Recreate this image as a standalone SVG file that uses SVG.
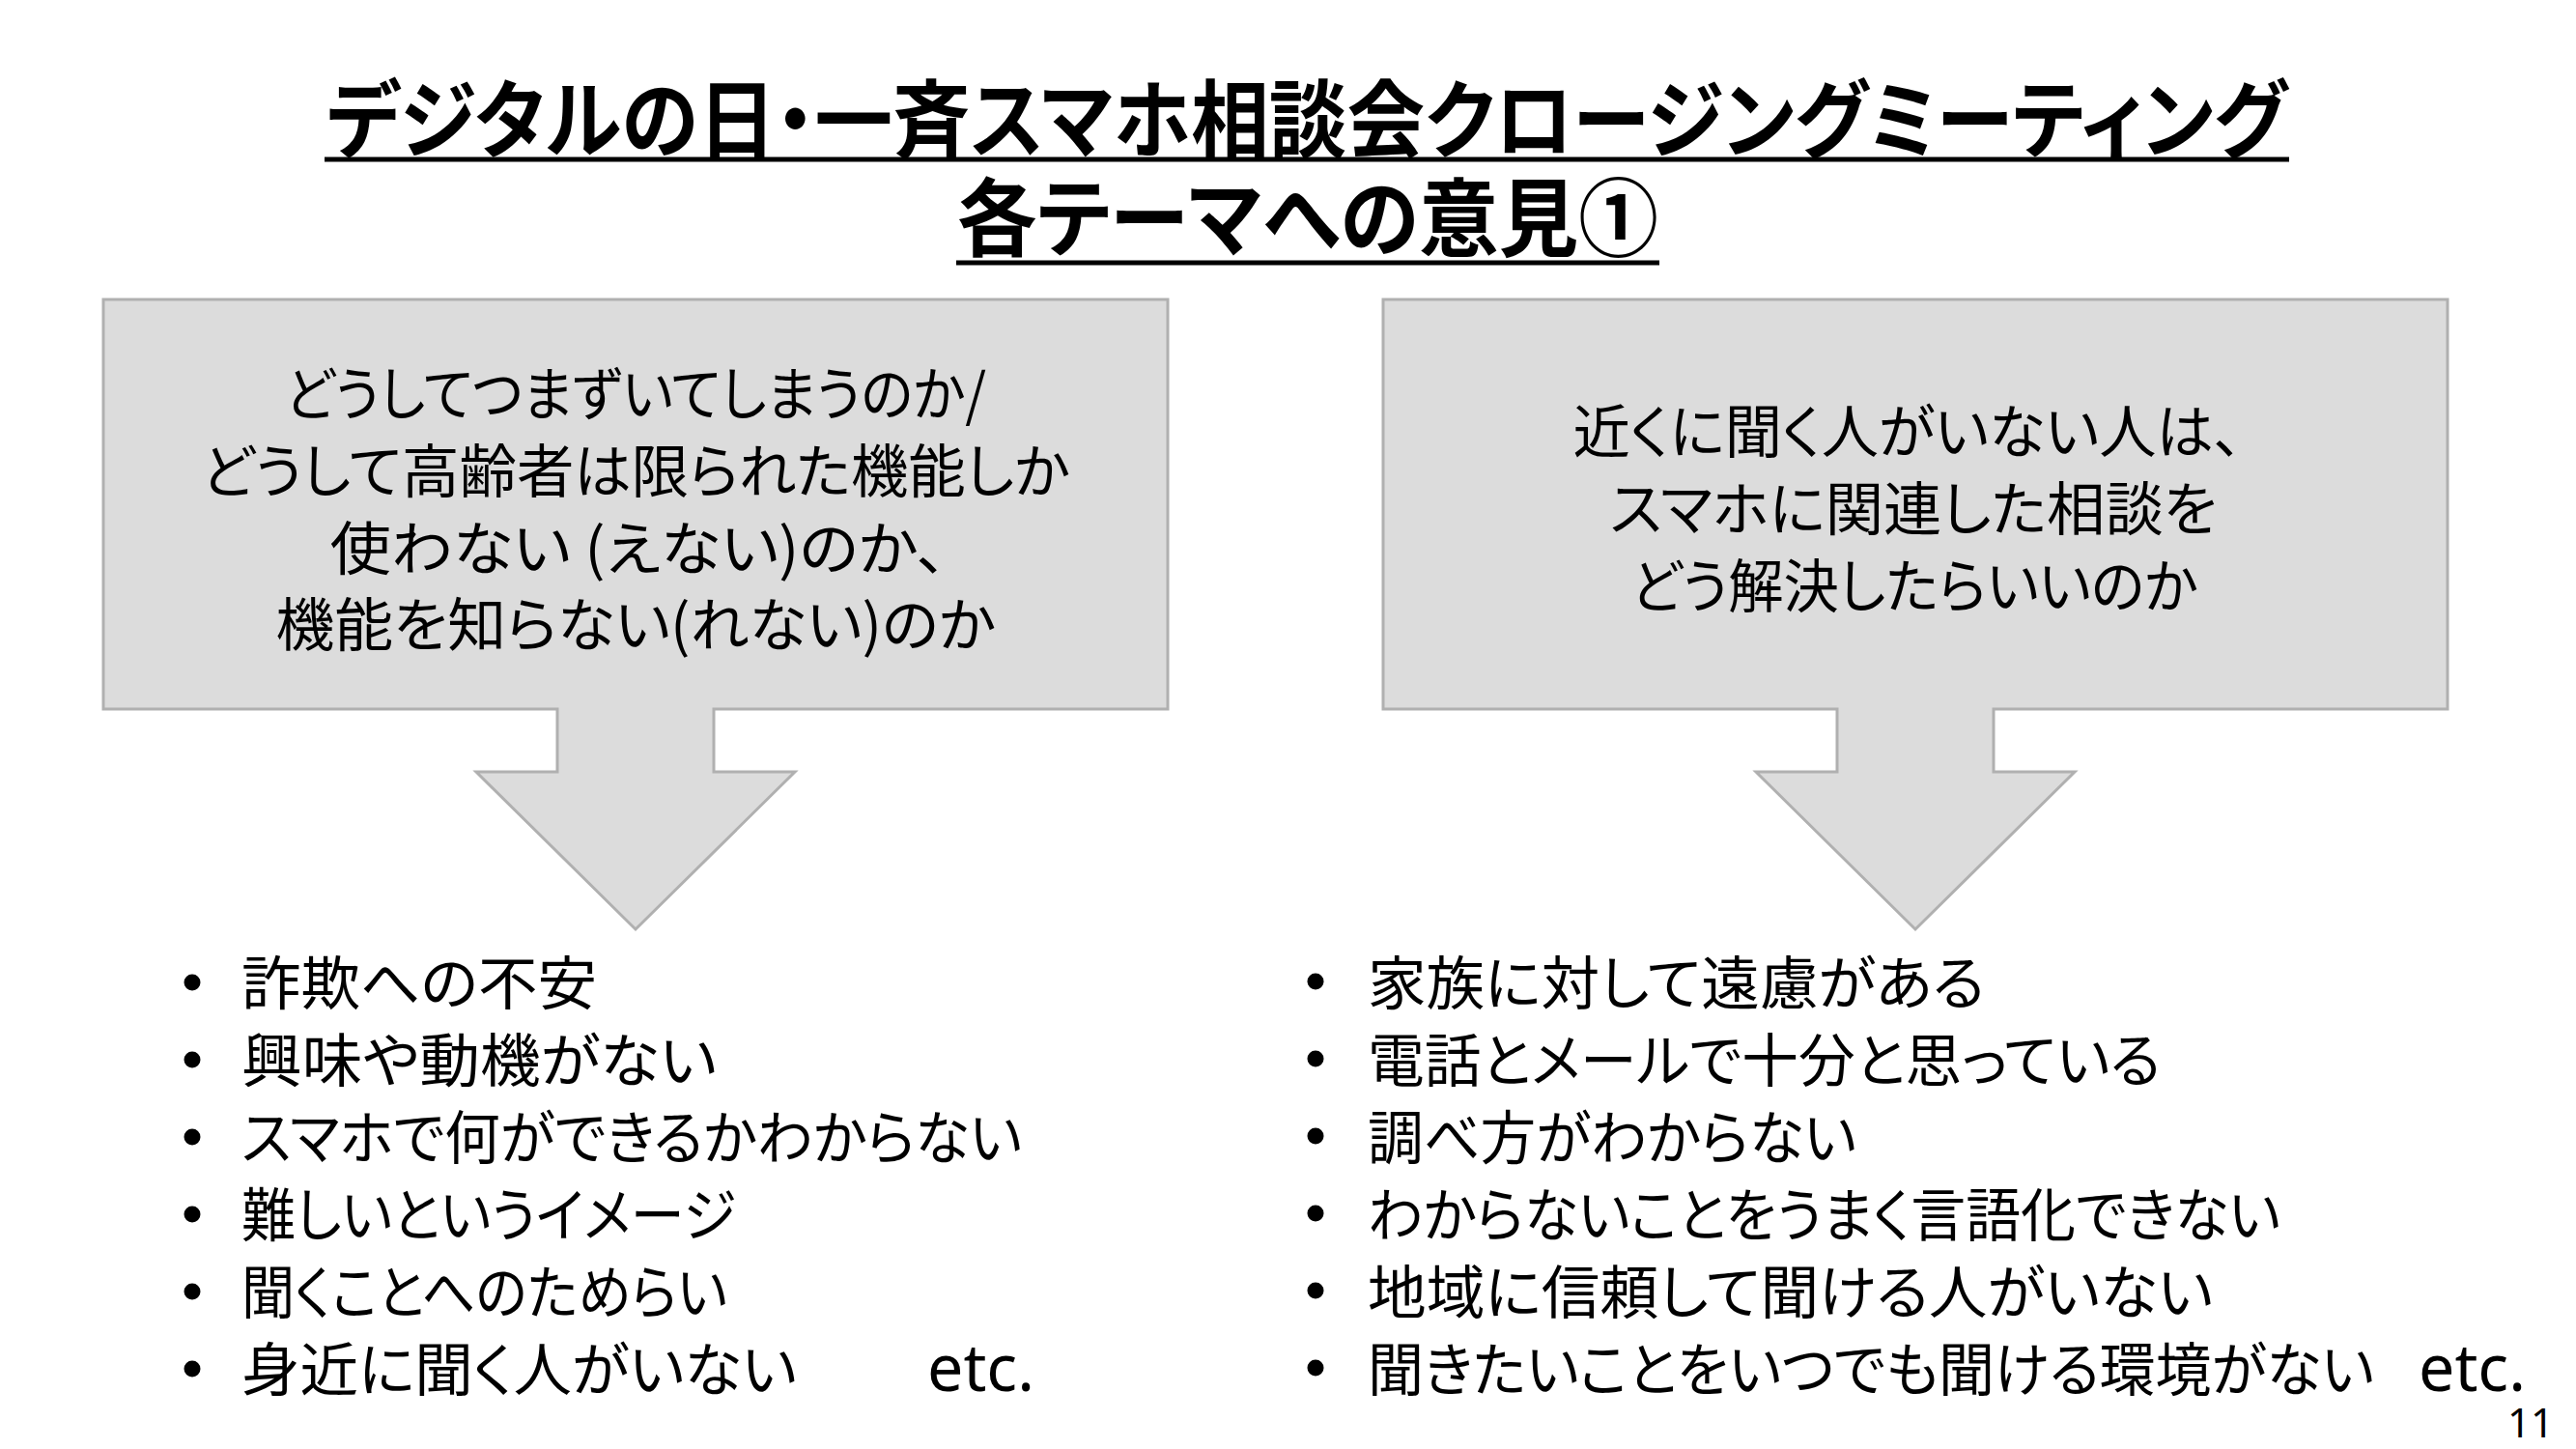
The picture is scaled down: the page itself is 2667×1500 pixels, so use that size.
<svg xmlns="http://www.w3.org/2000/svg" width="2667" height="1500" viewBox="0 0 2667 1500">
<style>
.jp{font-family:"Noto Sans CJK JP","Noto Sans",sans-serif;font-feature-settings:"palt";fill:#000}
.title{font-size:88px;font-weight:700;text-anchor:middle}
.box{font-size:60px;text-anchor:middle}
.item{font-size:60px}
.lat{font-family:"Noto Sans","DejaVu Sans",sans-serif;fill:#000}
.shape{fill:#dcdcdc;stroke:#b0b0b0;stroke-width:3;stroke-linejoin:miter}
.ul{stroke:#000;stroke-width:5}
</style>
<rect width="2667" height="1500" fill="#fff"/>
<g id="title">
<text class="jp title" x="1353" y="156" textLength="2030" lengthAdjust="spacingAndGlyphs">デジタルの日・一斉スマホ相談会クロージングミーティング</text>
<line class="ul" x1="336" y1="165" x2="2370" y2="165"/>
<text class="jp title" x="1354" y="258" textLength="726" lengthAdjust="spacingAndGlyphs">各テーマへの意見①</text>
<line class="ul" x1="990" y1="272" x2="1718" y2="272"/>
</g>
<g id="question-left">
<polygon class="shape" points="107,310 1209,310 1209,734 739,734 739,799 823,799 658,962 493,799 577,799 577,734 107,734"/>
<text class="jp box" x="658" y="430" textLength="726" lengthAdjust="spacingAndGlyphs">どうしてつまずいてしまうのか/</text>
<text class="jp box" x="658" y="510" textLength="899" lengthAdjust="spacingAndGlyphs">どうして高齢者は限られた機能しか</text>
<text class="jp box" x="661" y="590" textLength="639" lengthAdjust="spacingAndGlyphs">使わない (えない)のか、</text>
<text class="jp box" x="658" y="669" textLength="745" lengthAdjust="spacingAndGlyphs">機能を知らない(れない)のか</text>
</g>
<g id="question-right">
<polygon class="shape" points="1432,310 2534,310 2534,734 2064,734 2064,799 2148,799 1983,962 1818,799 1902,799 1902,734 1432,734"/>
<text class="jp box" x="1975" y="469" textLength="693" lengthAdjust="spacingAndGlyphs">近くに聞く人がいない人は、</text>
<text class="jp box" x="1981" y="549" textLength="629" lengthAdjust="spacingAndGlyphs">スマホに関連した相談を</text>
<text class="jp box" x="1982" y="629" textLength="587" lengthAdjust="spacingAndGlyphs">どう解決したらいいのか</text>
</g>
<g id="opinions-left">
<g fill="#000">
<circle cx="199" cy="1017" r="8.5"/>
<circle cx="199" cy="1097" r="8.5"/>
<circle cx="199" cy="1177" r="8.5"/>
<circle cx="199" cy="1257" r="8.5"/>
<circle cx="199" cy="1337" r="8.5"/>
<circle cx="199" cy="1417" r="8.5"/>
</g>
<text class="jp item" x="250" y="1040" textLength="368" lengthAdjust="spacingAndGlyphs">詐欺への不安</text>
<text class="jp item" x="250" y="1120" textLength="492" lengthAdjust="spacingAndGlyphs">興味や動機がない</text>
<text class="jp item" x="250" y="1200" textLength="808" lengthAdjust="spacingAndGlyphs">スマホで何ができるかわからない</text>
<text class="jp item" x="250" y="1280" textLength="512" lengthAdjust="spacingAndGlyphs">難しいというイメージ</text>
<text class="jp item" x="250" y="1360" textLength="503" lengthAdjust="spacingAndGlyphs">聞くことへのためらい</text>
<text class="jp item" x="250" y="1440" textLength="575" lengthAdjust="spacingAndGlyphs">身近に聞く人がいない</text>
<text class="lat" x="960" y="1440" font-size="68" textLength="111" lengthAdjust="spacingAndGlyphs">etc.</text>
</g>
<g id="opinions-right">
<g fill="#000">
<circle cx="1362" cy="1016" r="8.5"/>
<circle cx="1362" cy="1096" r="8.5"/>
<circle cx="1362" cy="1176" r="8.5"/>
<circle cx="1362" cy="1256" r="8.5"/>
<circle cx="1362" cy="1336" r="8.5"/>
<circle cx="1362" cy="1416" r="8.5"/>
</g>
<text class="jp item" x="1416" y="1040" textLength="639" lengthAdjust="spacingAndGlyphs">家族に対して遠慮がある</text>
<text class="jp item" x="1416" y="1120" textLength="821" lengthAdjust="spacingAndGlyphs">電話とメールで十分と思っている</text>
<text class="jp item" x="1416" y="1200" textLength="506" lengthAdjust="spacingAndGlyphs">調べ方がわからない</text>
<text class="jp item" x="1416" y="1280" textLength="945" lengthAdjust="spacingAndGlyphs">わからないことをうまく言語化できない</text>
<text class="jp item" x="1416" y="1360" textLength="875" lengthAdjust="spacingAndGlyphs">地域に信頼して聞ける人がいない</text>
<text class="jp item" x="1416" y="1440" textLength="1042" lengthAdjust="spacingAndGlyphs">聞きたいことをいつでも聞ける環境がない</text>
<text class="lat" x="2504" y="1440" font-size="68" textLength="111" lengthAdjust="spacingAndGlyphs">etc.</text>
</g>
<g id="page-number">
<text class="lat" x="2644" y="1488" font-size="42" text-anchor="end">11</text>
</g>
<g id="connectors"/>
</svg>
